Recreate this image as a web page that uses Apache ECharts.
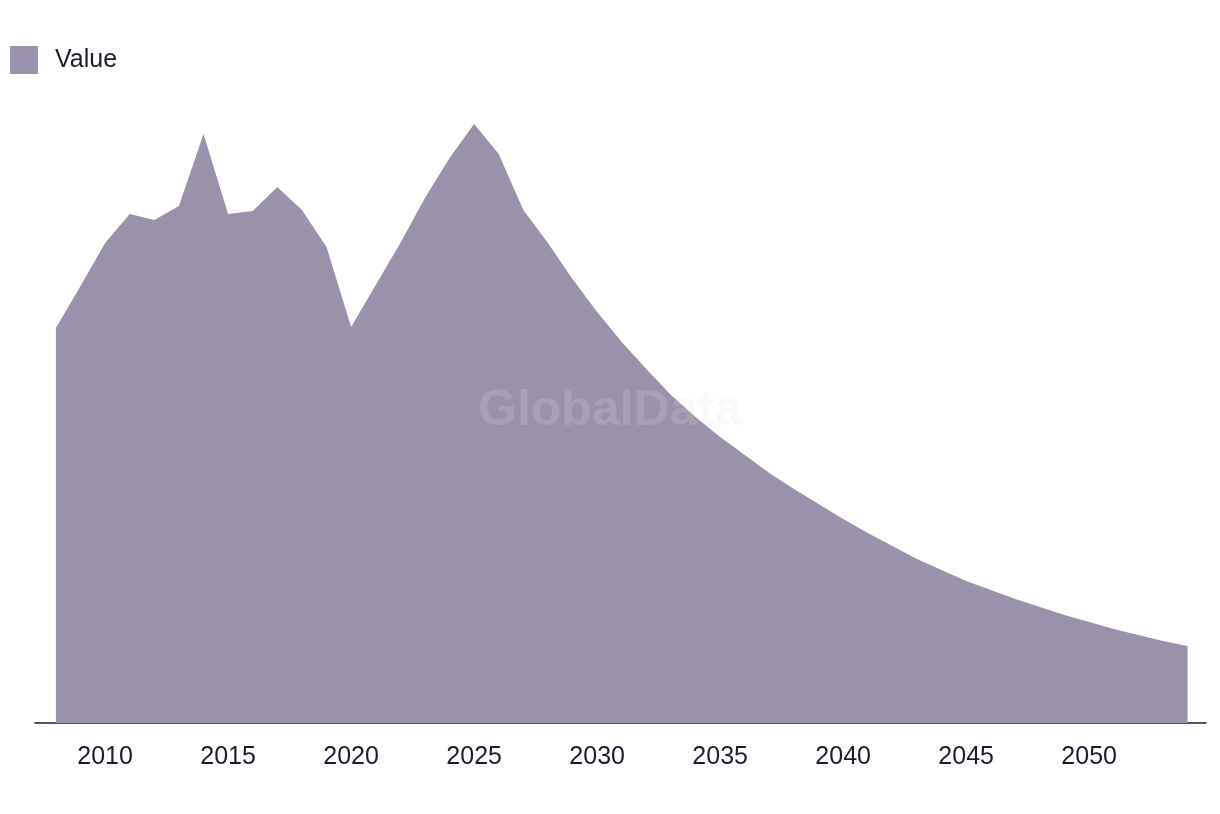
<!DOCTYPE html>
<html>
<head>
<meta charset="utf-8">
<script src="https://cdn.jsdelivr.net/npm/echarts@6/dist/echarts.min.js"></script>
<style>
html,body{margin:0;padding:0;background:#fff;}
#chart{width:1220px;height:814px;}
</style>
</head>
<body>
<div id="chart"></div>
<script>
const years = [2008,2009,2010,2011,2012,2013,2014,2015,2016,2017,2018,2019,2020,2021,2022,2023,2024,2025,2026,2027,2028,2029,2030,2031,2032,2033,2034,2035,2036,2037,2038,2039,2040,2041,2042,2043,2044,2045,2046,2047,2048,2049,2050,2051,2052,2053,2054];
const values = [395,437,480,509,503,517,589,509,512,536,513,476,396,438,480,525,565,599,569,513,480,444,411,381,354,328,306,286,268,250,234,219,204,190,177,164,153,142,133,124,116,108,101,94,88,82,77];
const tickYears = [2010,2015,2020,2025,2030,2035,2040,2045,2050];
const seriesName = 'Value';

const chart = echarts.init(document.getElementById('chart'));
const font = '"Liberation Sans", Arial, sans-serif';
chart.setOption({
  animation: false,
  textStyle: { fontFamily: font },
  legend: {
    left: 5, top: 41,
    itemWidth: 28, itemHeight: 28,
    icon: 'rect',
    textStyle: { fontSize: 25, color: '#1c1c2e', fontFamily: font, padding: [0,0,0,12] },
    data: [seriesName]
  },
  graphic: [{
    type: 'text',
    left: 'center',
    top: 386,
    z: 100,
    style: {
      text: 'GlobalData',
      font: 'bold 50px ' + font,
      fill: 'rgba(225,225,230,0.2)'
    }
  }],
  grid: { left: 35, right: 14, top: 123, bottom: 91 },
  xAxis: {
    type: 'value',
    min: 2007.15,
    max: 2054.75,
    splitLine: { show: false },
    axisTick: { show: false },
    axisLine: { show: true, lineStyle: { color: '#1c1c2e', width: 1.5 } },
    axisLabel: {
      customValues: tickYears,
      fontSize: 25,
      color: '#1c1c2e',
      margin: 22,
      fontFamily: font,
      formatter: v => String(v)
    }
  },
  yAxis: {
    type: 'value',
    min: 0, max: 600,
    show: false,
    splitLine: { show: false }
  },
  series: [{
    name: seriesName,
    type: 'line',
    data: years.map((y, i) => [y, values[i]]),
    symbol: 'none',
    color: '#9a91aa',
    lineStyle: { width: 0 },
    areaStyle: { color: '#9a91aa', opacity: 1 }
  }]
});
</script>
</body>
</html>
